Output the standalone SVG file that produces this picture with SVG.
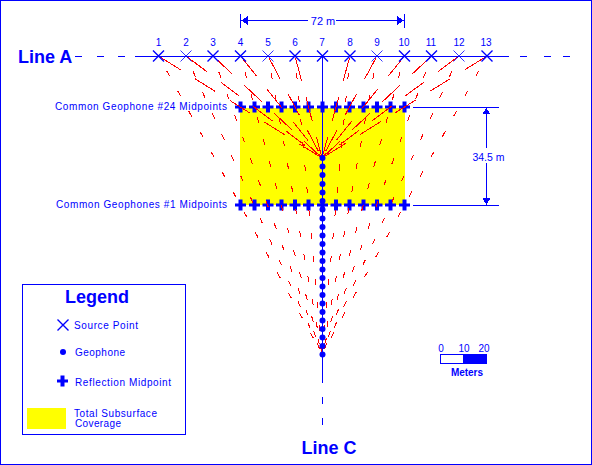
<svg xmlns="http://www.w3.org/2000/svg" xmlns:xlink="http://www.w3.org/1999/xlink" width="592" height="465" viewBox="0 0 592 465">
<style>
text{font-family:"Liberation Sans",Arial,sans-serif;fill:#00f}
.s{font-size:10px}
.b{font-size:18px;font-weight:bold}
.n{font-size:10px;text-anchor:middle}
.ln{stroke:#00f;stroke-width:1;fill:none;shape-rendering:crispEdges}
.a{fill:#00f;shape-rendering:crispEdges}
.near{stroke:#f00;stroke-width:1;fill:none;stroke-dasharray:24 17;stroke-dashoffset:-2;shape-rendering:crispEdges}
.far{stroke:#f00;stroke-width:1;fill:none;stroke-dasharray:6 17;stroke-dashoffset:6;shape-rendering:crispEdges}
</style>
<defs>
<g id="x"><path d="M-5.5-5.5L5.5 5.5M-5.5 5.5L5.5-5.5" stroke="#00f" stroke-width="1.4" fill="none"/></g>
<g id="xt"><path d="M-5.5-5.5L5.5 5.5M-5.5 5.5L5.5-5.5" stroke="#00f" stroke-width="0.8" fill="none"/></g>
<path id="p" d="M-2-5.5H2V-1.5H5.5V1.5H2V5.5H-2V1.5H-5.5V-1.5H-2Z" fill="#00f"/>
<circle id="d" r="3" fill="#00f"/>
</defs>
<rect x="0.5" y="0.5" width="591" height="464" fill="#fff" stroke="#00f"/>
<g id="coverage"><rect x="240" y="108" width="165" height="97" fill="#ff0"/></g>
<g id="midpoints-24">
<use xlink:href="#p" x="240.5" y="107"/><use xlink:href="#p" x="254.5" y="107"/><use xlink:href="#p" x="268" y="107"/><use xlink:href="#p" x="281.5" y="107"/><use xlink:href="#p" x="295" y="107"/><use xlink:href="#p" x="308.5" y="107"/><use xlink:href="#p" x="322.5" y="107"/><use xlink:href="#p" x="336" y="107"/><use xlink:href="#p" x="349.5" y="107"/><use xlink:href="#p" x="363.5" y="107"/><use xlink:href="#p" x="377" y="107"/><use xlink:href="#p" x="390.5" y="107"/><use xlink:href="#p" x="404.5" y="107"/>
</g>
<g id="midpoints-1">
<use xlink:href="#p" x="240.5" y="205"/><use xlink:href="#p" x="254.5" y="205"/><use xlink:href="#p" x="268" y="205"/><use xlink:href="#p" x="281.5" y="205"/><use xlink:href="#p" x="295" y="205"/><use xlink:href="#p" x="308.5" y="205"/><use xlink:href="#p" x="322.5" y="205"/><use xlink:href="#p" x="336" y="205"/><use xlink:href="#p" x="349.5" y="205"/><use xlink:href="#p" x="363.5" y="205"/><use xlink:href="#p" x="377" y="205"/><use xlink:href="#p" x="390.5" y="205"/><use xlink:href="#p" x="404.5" y="205"/>
</g>
<g id="connectors">
<g id="rays-near">
<path class="near" d="M158.5 56L322 158"/><path class="near" d="M186 56L322 158"/><path class="near" d="M213 56L322 158"/><path class="near" d="M240.5 56L322 158"/><path class="near" d="M268 56L322 158"/><path class="near" d="M295 56L322 158"/><path class="near" d="M350 56L322 158"/><path class="near" d="M377 56L322 158"/><path class="near" d="M404.5 56L322 158"/><path class="near" d="M431.5 56L322 158"/><path class="near" d="M459 56L322 158"/><path class="near" d="M487 56L322 158"/>
</g>
<g id="rays-far">
<path class="far" d="M158.5 56L322 354"/><path class="far" d="M186 56L322 354"/><path class="far" d="M213 56L322 354"/><path class="far" d="M240.5 56L322 354"/><path class="far" d="M268 56L322 354"/><path class="far" d="M295 56L322 354"/><path class="far" d="M350 56L322 354"/><path class="far" d="M377 56L322 354"/><path class="far" d="M404.5 56L322 354"/><path class="far" d="M431.5 56L322 354"/><path class="far" d="M459 56L322 354"/><path class="far" d="M487 56L322 354"/>
</g>
<g id="line-a"><path class="ln" d="M135 56.5H509M75 56.5H82M97 56.5H104M118 56.5H125M520 56.5H527M544 56.5H551M563 56.5H570"/></g>
<g id="line-c"><path class="ln" d="M322.5 56V383M322.5 397V404M322.5 418V425"/></g>
<g id="dim-72"><path class="ln" d="M240.5 14V28M404.5 14V28M241 20.5H308M336 20.5H404"/><path class="a" d="M241 20.5L248 16V25ZM404 20.5L397 16V25Z"/></g>
<g id="dim-34"><path class="ln" d="M413 107.5H499M413 205.5H499M486.5 108V148M486.5 163V205"/><path class="a" d="M486.5 108L490.5 114H482.5ZM486.5 205L482.5 198H490.5Z"/></g>
</g>
<g id="geophones">
<use xlink:href="#d" x="322.5" y="158"/><use xlink:href="#d" x="322.5" y="166.5"/><use xlink:href="#d" x="322.5" y="175"/><use xlink:href="#d" x="322.5" y="184"/><use xlink:href="#d" x="322.5" y="192.5"/><use xlink:href="#d" x="322.5" y="201"/><use xlink:href="#d" x="322.5" y="209.5"/><use xlink:href="#d" x="322.5" y="218.5"/><use xlink:href="#d" x="322.5" y="227"/><use xlink:href="#d" x="322.5" y="235.5"/><use xlink:href="#d" x="322.5" y="244"/><use xlink:href="#d" x="322.5" y="252.5"/><use xlink:href="#d" x="322.5" y="261"/><use xlink:href="#d" x="322.5" y="269.5"/><use xlink:href="#d" x="322.5" y="278"/><use xlink:href="#d" x="322.5" y="286.5"/><use xlink:href="#d" x="322.5" y="295"/><use xlink:href="#d" x="322.5" y="303.5"/><use xlink:href="#d" x="322.5" y="312"/><use xlink:href="#d" x="322.5" y="320.5"/><use xlink:href="#d" x="322.5" y="329"/><use xlink:href="#d" x="322.5" y="337.5"/><use xlink:href="#d" x="322.5" y="346"/><use xlink:href="#d" x="322.5" y="354.5"/>
</g>
<g id="sources">
<g id="s1"><use xlink:href="#x" x="158.5" y="56"/><text class="n" x="158.5" y="46">1</text></g>
<g id="s2"><use xlink:href="#xt" x="186" y="56"/><text class="n" x="186" y="46">2</text></g>
<g id="s3"><use xlink:href="#x" x="213" y="56"/><text class="n" x="213" y="46">3</text></g>
<g id="s4"><use xlink:href="#x" x="240.5" y="56"/><text class="n" x="240.5" y="46">4</text></g>
<g id="s5"><use xlink:href="#xt" x="268" y="56"/><text class="n" x="268" y="46">5</text></g>
<g id="s6"><use xlink:href="#x" x="295" y="56"/><text class="n" x="295" y="46">6</text></g>
<g id="s7"><use xlink:href="#x" x="322.5" y="56"/><text class="n" x="322" y="46">7</text></g>
<g id="s8"><use xlink:href="#x" x="350" y="56"/><text class="n" x="350" y="46">8</text></g>
<g id="s9"><use xlink:href="#xt" x="377" y="56"/><text class="n" x="377" y="46">9</text></g>
<g id="s10"><use xlink:href="#x" x="404.5" y="56"/><text class="n" x="404" y="46">10</text></g>
<g id="s11"><use xlink:href="#x" x="431.5" y="56"/><text class="n" x="431" y="46">11</text></g>
<g id="s12"><use xlink:href="#xt" x="459" y="56"/><text class="n" x="459" y="46">12</text></g>
<g id="s13"><use xlink:href="#x" x="487" y="56"/><text class="n" x="486" y="46">13</text></g>
</g>
<g id="labels">
<text class="b" x="18" y="63">Line A</text>
<text class="b" x="301.5" y="454">Line C</text>
<text class="s" x="55" y="110" textLength="172" lengthAdjust="spacing">Common Geophone #24 Midpoints</text>
<text class="s" x="56" y="208" textLength="171" lengthAdjust="spacing">Common Geophones #1 Midpoints</text>
<text class="n" x="323" y="25" style="font-size:11px">72 m</text>
<text class="n" x="488.5" y="161" style="font-size:10.5px">34.5 m</text>
</g>
<g id="legend">
<rect class="ln" x="22.5" y="284.5" width="163" height="150"/>
<text class="b" x="65" y="303">Legend</text>
<use xlink:href="#x" x="63" y="325"/>
<text class="s" x="74" y="329" textLength="64" lengthAdjust="spacing">Source Point</text>
<use xlink:href="#d" x="63" y="352"/>
<text class="s" x="75" y="356" textLength="50" lengthAdjust="spacing">Geophone</text>
<use xlink:href="#p" x="62.5" y="381"/>
<text class="s" x="75" y="386" textLength="96" lengthAdjust="spacing">Reflection Midpoint</text>
<rect x="27" y="408" width="39" height="21" fill="#ff0"/>
<text class="s" x="74" y="417" textLength="83" lengthAdjust="spacing">Total Subsurface</text>
<text class="s" x="75" y="427" textLength="46" lengthAdjust="spacing">Coverage</text>
</g>
<g id="scale">
<text class="n" x="441" y="352">0</text><text class="n" x="464" y="352">10</text><text class="n" x="484" y="352">20</text>
<rect class="ln" x="440.5" y="354.5" width="46" height="9"/>
<rect class="a" x="463" y="354" width="24" height="10"/>
<text class="s" x="451" y="376" textLength="32" lengthAdjust="spacing" font-weight="bold">Meters</text>
</g>
</svg>
